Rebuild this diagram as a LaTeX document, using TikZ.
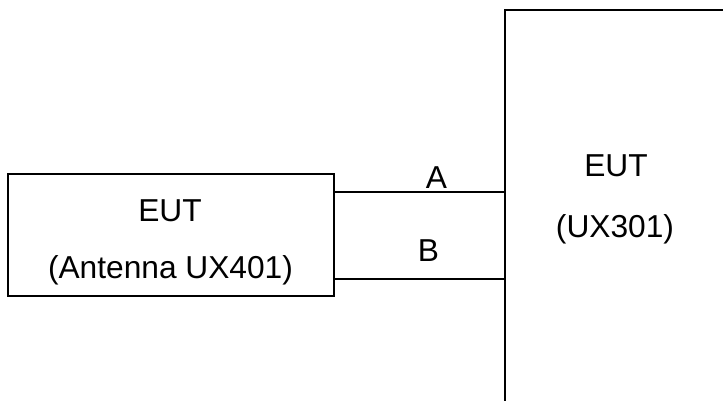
\documentclass[tikz,border=0pt]{standalone}
\usepackage{fontspec}
\setmainfont{Liberation Sans}
\begin{document}
\begin{tikzpicture}[x=1pt,y=-1pt,
  box/.style={draw=black,line width=1.8pt,inner sep=0pt,fill=none},
  wire/.style={draw=black,line width=1.8pt},
  lbl/.style={anchor=base,inner sep=0pt,font=\fontsize{31.7}{38}\selectfont}]
\useasboundingbox (0,0) rectangle (723,401);
\clip (0,0) rectangle (723,401);
\fill[white] (0,0) rectangle (723,401);
\node[box,minimum width=326pt,minimum height=122pt] (L) at (171,235) {};
\node[box,minimum width=230pt,minimum height=400pt] (R) at (620,210) {};
\coordinate (a1) at ([yshift=43pt]L.east);
\coordinate (b1) at ([yshift=-44pt]L.east);
\draw[wire] (a1) -- (a1 -| R.west);
\draw[wire] (b1) -- (b1 -| R.west);
\node[lbl] (t1) at (170,221) {EUT};
\node[lbl] (t2) at (170.5,278) {(Antenna UX401)};
\node[lbl] (la) at (436.5,188) {A};
\node[lbl] (lb) at (428.5,261) {B};
\node[lbl] (t3) at (616,177) {EUT};
\node[lbl] (t4) at (615,237) {(UX301)};
\end{tikzpicture}
\end{document}
